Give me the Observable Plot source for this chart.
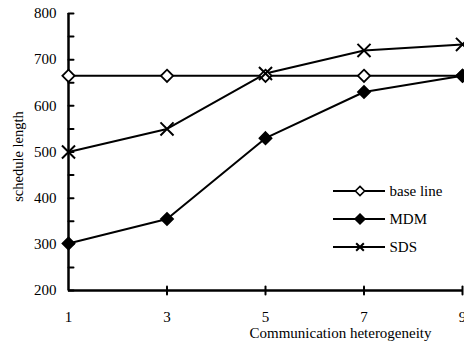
<!DOCTYPE html>
<html><head><meta charset="utf-8">
<script src="https://cdn.jsdelivr.net/npm/d3@7"></script>
<script src="https://cdn.jsdelivr.net/npm/@observablehq/plot@0.6"></script>
<style>
body{margin:0;background:#fff;}
#chart{position:relative;width:464px;height:349px;}
#legend{position:absolute;left:0;top:0;}
</style></head><body><div id="chart"></div>
<script>
const heterogeneity = [1, 3, 5, 7, 9];
const baseLine = [665, 665, 665, 665, 665];
const mdm = [302, 355, 530, 630, 665];
const sds = [500, 550, 670, 720, 733];
const seriesNames = ["base line", "MDM", "SDS"];
const xTicks = [1, 3, 5, 7, 9];
const yTicks = [200, 300, 400, 500, 600, 700, 800];
const yMinorTicks = [250, 350, 450, 550, 650, 750];
const xLabel = "Communication heterogeneity";
const yLabel = "schedule length";

const seriesValues = [baseLine, mdm, sds];
const rows = [];
seriesNames.forEach((s, i) => heterogeneity.forEach((x, j) => rows.push({series: s, x, y: seriesValues[i][j]})));

const font = "'Liberation Serif', 'Times New Roman', serif";
const tickShape = {draw(ctx, l) { ctx.moveTo(0, 0); ctx.lineTo(0, -l); }};
const legendTop = 191, legendStep = 28;

const plot = Plot.plot({
  width: 464, height: 349,
  marginLeft: 68, marginRight: 2, marginTop: 13, marginBottom: 59,
  style: {fontFamily: font, fontSize: "15px", color: "#000", background: "#fff"},
  x: {domain: [1, 9]},
  y: {domain: [200, 800]},
  marks: [
    Plot.axisY(yTicks, {tickSize: 0, tickPadding: 12, label: null, fill: "#000"}),
    Plot.axisX(xTicks, {tickSize: 0, tickPadding: 21, label: null, fill: "#000"}),
    Plot.text([yLabel], {frameAnchor: "left", textAnchor: "middle", rotate: -90, dx: -50, dy: 4.5, fontSize: 14.5, fill: "#000"}),
    Plot.text([xLabel], {frameAnchor: "bottom", textAnchor: "middle", dx: 75, dy: 47, fill: "#000"}),
    Plot.ruleX([1], {y1: 200, y2: 800, stroke: "#000", strokeWidth: 2.5}),
    Plot.ruleY([200], {x1: 1, x2: 9, stroke: "#000", strokeWidth: 2.5}),
    Plot.vector(yTicks.concat(yMinorTicks), {x: 1, y: d => d, rotate: 90, length: 5, anchor: "start", shape: tickShape, stroke: "#000", strokeWidth: 2}),
    Plot.vector(xTicks.slice(1), {x: d => d, y: 200, length: 8, anchor: "middle", shape: tickShape, stroke: "#000", strokeWidth: 2}),
    Plot.line(rows, {x: "x", y: "y", z: "series", stroke: "#000", strokeWidth: 2}),
    Plot.dot(rows.filter(d => d.series === seriesNames[0]), {x: "x", y: "y", symbol: "diamond2", r: 5.5, fill: "#fff", stroke: "#000", strokeWidth: 1.8}),
    Plot.dot(rows.filter(d => d.series === seriesNames[1]), {x: "x", y: "y", symbol: "diamond2", r: 5.6, fill: "#000", stroke: "#000", strokeWidth: 1.5}),
    Plot.dot(rows.filter(d => d.series === seriesNames[2]), {x: "x", y: "y", symbol: "times", r: 6, stroke: "#000", strokeWidth: 2}),
    ...seriesNames.map((s, i) => Plot.text([s], {frameAnchor: "top-left", textAnchor: "start", lineAnchor: "middle", dx: 389 - 68, dy: legendTop + i * legendStep - 13, fill: "#000"}))
  ]
});
document.getElementById("chart").appendChild(plot);

// legend keys overlay
const symbols = [d3.symbolDiamond2, d3.symbolDiamond2, d3.symbolTimes];
const fills = ["#fff", "#000", "none"];
const sizes = [55, 62, 40];
const lg = d3.select("#chart").append("svg").attr("id", "legend").attr("width", 464).attr("height", 349);
const items = lg.selectAll("g").data(seriesNames).join("g")
  .attr("transform", (d, i) => `translate(333,${legendTop + i * legendStep})`);
items.append("line").attr("x1", 0).attr("x2", 52).attr("stroke", "#000").attr("stroke-width", 2);
items.append("path").attr("transform", "translate(27,0)")
  .attr("d", (d, i) => d3.symbol(symbols[i], sizes[i])())
  .attr("fill", (d, i) => fills[i]).attr("stroke", "#000").attr("stroke-width", (d, i) => i === 2 ? 2 : 1.6);
</script>
</body></html>
